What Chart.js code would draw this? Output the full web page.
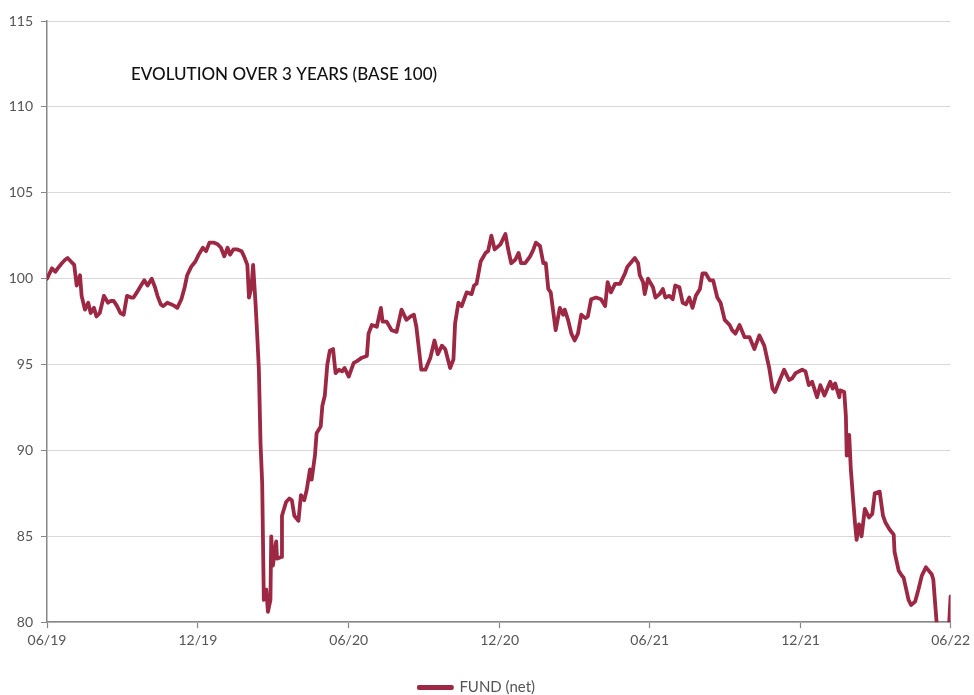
<!DOCTYPE html>
<html>
<head>
<meta charset="utf-8">
<script src="https://cdn.jsdelivr.net/npm/chart.js@4/dist/chart.umd.min.js"></script>
<style>
html,body{margin:0;padding:0;background:#fff;}
#wrap{width:974px;height:695px;position:relative;}
</style>
</head>
<body>
<div id="wrap"><canvas id="c"></canvas></div>
<script>
// Days since the start of the 3-year window (06/19 = day 0)
const days = [0,6,10,13,18,22,25,29,33,36,40,42,46,50,53,57,60,64,69,74,77,81,85,89,93,97,102,105,109,114,118,122,127,131,134,138,141,146,151,155,158,163,167,170,175,180,184,189,193,197,202,207,211,215,219,222,226,231,236,239,243,245,248,250,253,255,257,259,261,263,266,268,271,272,274,278,279,284,285,290,294,297,300,305,308,312,315,319,321,325,327,332,334,337,340,343,347,350,354,358,361,366,372,376,382,388,390,394,400,405,407,412,418,424,430,436,441,445,448,454,459,465,470,474,479,483,489,493,495,499,503,509,515,518,521,526,532,535,539,543,550,556,559,563,568,572,575,580,586,590,593,598,602,605,608,611,617,622,626,628,632,636,640,644,648,653,656,660,666,672,677,680,684,689,695,701,704,713,717,719,723,725,729,735,738,743,747,750,755,759,762,767,771,775,779,783,787,792,795,799,804,808,813,817,822,828,831,835,840,846,852,858,864,870,876,880,883,888,894,900,904,908,916,920,924,928,930,934,938,943,950,953,956,961,962,967,969,970,973,975,978,980,982,985,988,992,997,1001,1004,1010,1014,1017,1022,1027,1028,1033,1037,1039,1045,1048,1053,1057,1061,1066,1073,1075,1079,1082,1088,1093,1096];
const fundNet = [100.0,100.6,100.4,100.6,100.9,101.1,101.2,101.0,100.8,99.6,100.2,99.0,98.2,98.6,98.0,98.3,97.8,98.0,99.0,98.6,98.7,98.7,98.4,98.0,97.9,99.0,98.9,98.9,99.2,99.6,99.9,99.6,100.0,99.5,99.0,98.5,98.4,98.6,98.5,98.4,98.3,98.8,99.5,100.2,100.7,101.0,101.4,101.8,101.6,102.1,102.1,102.0,101.8,101.3,101.8,101.4,101.7,101.7,101.6,101.3,100.8,98.9,99.5,100.8,98.5,96.7,94.7,90.4,88.1,81.3,81.9,80.6,81.3,85.0,83.3,84.7,83.7,83.8,86.2,87.0,87.2,87.1,86.2,85.9,87.4,87.1,87.7,88.9,88.3,89.7,91.0,91.4,92.6,93.2,95.0,95.8,95.9,94.5,94.7,94.6,94.8,94.3,95.1,95.2,95.4,95.5,96.8,97.3,97.2,98.3,97.5,97.5,97.0,96.9,98.2,97.6,97.8,97.9,97.2,94.7,94.7,95.4,96.4,95.6,96.1,95.9,94.8,95.3,97.4,98.6,98.4,99.2,99.1,99.6,99.7,101.0,101.5,101.6,102.5,101.7,102.0,102.6,101.8,100.9,101.1,101.5,100.9,100.9,101.3,101.7,102.1,101.9,100.9,100.9,99.4,99.2,97.0,98.3,97.9,98.2,97.6,96.8,96.4,96.8,97.9,97.7,97.8,98.8,98.9,98.8,98.4,99.8,99.2,99.7,99.7,100.3,100.7,101.2,100.9,100.2,99.8,99.1,100.0,99.5,98.9,99.1,99.4,98.9,99.0,98.8,99.6,99.5,98.6,98.5,98.9,98.3,99.0,99.4,100.3,100.3,99.9,99.9,98.9,98.6,97.6,97.3,97.0,96.8,97.3,96.6,96.6,95.9,96.7,96.1,94.8,93.6,93.4,94.0,94.7,94.1,94.2,94.5,94.7,94.6,93.8,94.0,93.7,93.1,93.8,93.2,94.0,93.6,93.9,93.1,93.5,93.4,92.0,89.7,90.9,88.9,87.0,85.8,84.8,85.7,85.0,86.6,86.1,86.3,87.5,87.6,86.2,85.8,85.4,85.1,84.1,83.0,82.7,82.6,81.3,81.0,81.2,81.9,82.7,83.2,82.8,82.5,80.0,78.8,78.5,78.8,81.5];
const tickDays = [0,183,366,549,731,914,1096];
const tickLabels = ['06/19','12/19','06/20','12/20','06/21','12/21','06/22'];
const yTicks = [80,85,90,95,100,105,110,115];
const seriesName = 'FUND (net)';
const chartTitle = 'EVOLUTION OVER 3 YEARS (BASE 100)';

const lineColor = '#9c2844';
const FONT = 'Lato, "Open Sans", sans-serif';

const points = days.map((d,i)=>({x:d,y:fundNet[i]}));

const titlePlugin = {
  id:'innerTitle',
  afterDraw(chart){
    const {ctx, chartArea} = chart;
    ctx.save();
    ctx.font = '500 17px ' + FONT;
    ctx.fillStyle = '#111';
    ctx.textBaseline = 'middle';
    ctx.textAlign = 'left';
    ctx.fillText(chartTitle, chartArea.left + 84, 75);
    ctx.restore();
  }
};

new Chart(document.getElementById('c'), {
  type:'line',
  data:{
    datasets:[{
      label:seriesName,
      data:points,
      borderColor:lineColor,
      backgroundColor:lineColor,
      borderWidth:3.8,
      pointRadius:0,
      tension:0,
      borderJoinStyle:'round',
      borderCapStyle:'round'
    }]
  },
  options:{
    responsive:true,
    maintainAspectRatio:false,
    animation:false,
    layout:{padding:{top:21,right:20,left:0,bottom:-10}},
    plugins:{
      legend:{
        position:'bottom',
        labels:{
          boxWidth:33,
          boxHeight:1,
          color:'#555',
          font:{family:FONT,size:15},
          padding:1
        }
      },
      tooltip:{enabled:false}
    },
    scales:{
      x:{
        type:'linear',
        min:0,max:1096,
        afterBuildTicks(scale){ scale.ticks = tickDays.map(v=>({value:v})); },
        afterFit(scale){ scale.height += 26; },
        ticks:{
          autoSkip:false,
          maxRotation:0,
          color:'#555',
          font:{family:FONT,size:14},
          padding:4,
          callback(v,i){ return tickLabels[i]; }
        },
        grid:{display:true,drawOnChartArea:false,tickLength:6,tickColor:'#888',tickWidth:1.2},
        border:{color:'#888',width:1.5}
      },
      y:{
        min:80,max:115,
        afterBuildTicks(scale){ scale.ticks = yTicks.map(v=>({value:v})); },
        afterFit(scale){ scale.width = 47; },
        ticks:{
          color:'#555',
          font:{family:FONT,size:14},
          padding:8
        },
        grid:{color:'#d9d9d9',lineWidth:1,tickLength:6,tickColor:'#888',drawTicks:true},
        border:{color:'#888',width:1.5}
      }
    }
  },
  plugins:[titlePlugin]
});
</script>
</body>
</html>
